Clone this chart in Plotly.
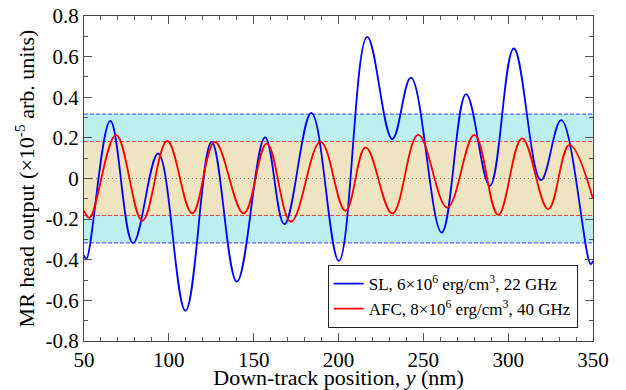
import plotly.graph_objects as go

# ---- data ----
sl_x = [50, 51.4, 65.5, 78.9, 93.7, 109.8, 125.2, 140.1, 156.7, 168.1, 184.0,
        200.2, 216.9, 231.7, 242.7, 260.8, 275.2, 289.2, 303.3, 319.3, 331.3,
        348.6, 350]
sl_y = [-0.378, -0.396, 0.284, -0.318, 0.123, -0.651, 0.180, -0.508, 0.202,
        -0.225, 0.323, -0.405, 0.697, 0.194, 0.497, -0.266, 0.415, -0.036,
        0.640, -0.008, 0.287, -0.421, -0.405]

afc_x = [50, 53.3, 68.9, 84.4, 99.0, 113.8, 127.1, 144.1, 157.7, 172.0, 189.4,
         204.1, 216.0, 231.7, 247.0, 264.1, 280.1, 294.1, 308.2, 323.6, 336.1,
         350]
afc_y = [-0.158, -0.194, 0.215, -0.208, 0.185, -0.172, 0.180, -0.172, 0.172,
         -0.213, 0.180, -0.159, 0.153, -0.172, 0.215, -0.143, 0.215, -0.179,
         0.198, -0.151, 0.166, -0.10]

sl_band = 0.317
afc_band = 0.182

x_ticks = [50, 100, 150, 200, 250, 300, 350]
x_ticktext = ["50", "100", "150", "200", "250", "300", "350"]
y_ticks = [-0.8, -0.6, -0.4, -0.2, 0, 0.2, 0.4, 0.6, 0.8]
y_ticktext = ["-0.8", "-0.6", "-0.4", "-0.2", "0", "0.2", "0.4", "0.6", "0.8"]

sl_name = "SL, 6×10<sup>6</sup> erg/cm<sup>3</sup>, 22 GHz"
afc_name = "AFC, 8×10<sup>6</sup> erg/cm<sup>3</sup>, 40 GHz"

FONT = "Times New Roman"

fig = go.Figure()
fig.add_trace(go.Scatter(x=sl_x, y=sl_y, mode="lines", name=sl_name,
                         line=dict(color="#0000ff", width=1.8, shape="spline",
                                   smoothing=1.1)))
fig.add_trace(go.Scatter(x=afc_x, y=afc_y, mode="lines", name=afc_name,
                         line=dict(color="#ff0000", width=1.8, shape="spline",
                                   smoothing=1.1)))

xmin, xmax = 50, 350
shapes = [
    dict(type="rect", xref="x", yref="y", x0=xmin, x1=xmax, y0=-sl_band, y1=sl_band,
         fillcolor="#bcefee", line=dict(width=0), layer="below"),
    dict(type="rect", xref="x", yref="y", x0=xmin, x1=xmax, y0=-afc_band, y1=afc_band,
         fillcolor="#eee5c0", line=dict(width=0), layer="below"),
]
for v in (sl_band, -sl_band):
    shapes.append(dict(type="line", xref="x", yref="y", x0=xmin, x1=xmax, y0=v, y1=v,
                       line=dict(color="#3f3fff", width=1, dash="4px,2px"), layer="below"))
for v in (afc_band, -afc_band):
    shapes.append(dict(type="line", xref="x", yref="y", x0=xmin, x1=xmax, y0=v, y1=v,
                       line=dict(color="#f04848", width=1, dash="4px,2px"), layer="below"))
shapes.append(dict(type="line", xref="x", yref="y", x0=xmin, x1=xmax, y0=0, y1=0,
                   line=dict(color="#777777", width=1, dash="1px,3px"), layer="below"))

axis_common = dict(
    showline=True, linecolor="#444444", linewidth=1.2, mirror="allticks",
    ticks="inside", ticklen=8, tickwidth=1.2, tickcolor="#555555",
    showgrid=False, zeroline=False, automargin=False,
    tickfont=dict(family=FONT, size=21, color="black"),
)

fig.update_layout(
    width=626, height=390,
    margin=dict(l=84, r=33, t=16, b=49),
    paper_bgcolor="white", plot_bgcolor="white",
    font=dict(family=FONT, color="black"),
    shapes=shapes,
    showlegend=True,
    legend=dict(x=0.97, y=0.04, xanchor="right", yanchor="bottom",
                bgcolor="white", bordercolor="#222222", borderwidth=1,
                font=dict(family=FONT, size=17, color="black"),
                itemwidth=30, tracegroupgap=0),
    xaxis=dict(range=[xmin, xmax], tickvals=x_ticks, ticktext=x_ticktext,
               minor=dict(ticks="inside", ticklen=4, dtick=10, tick0=50,
                          tickcolor="#555555", tickwidth=1, showgrid=False),
               title=dict(text="Down-track position, <i>y</i> (nm)",
                          font=dict(family=FONT, size=22), standoff=0),
               **axis_common),
    yaxis=dict(range=[-0.8, 0.8], tickvals=y_ticks, ticktext=y_ticktext,
               minor=dict(ticks="inside", ticklen=4, dtick=0.1, tick0=0,
                          tickcolor="#555555", tickwidth=1, showgrid=False),
               title=dict(text="MR head output (×10<sup>-5</sup> arb. units)",
                          font=dict(family=FONT, size=22), standoff=4),
               **axis_common),
)

fig.write_html("out.html", config={"displayModeBar": False},
               post_script="document.body.style.margin='0';document.body.style.padding='0';")
